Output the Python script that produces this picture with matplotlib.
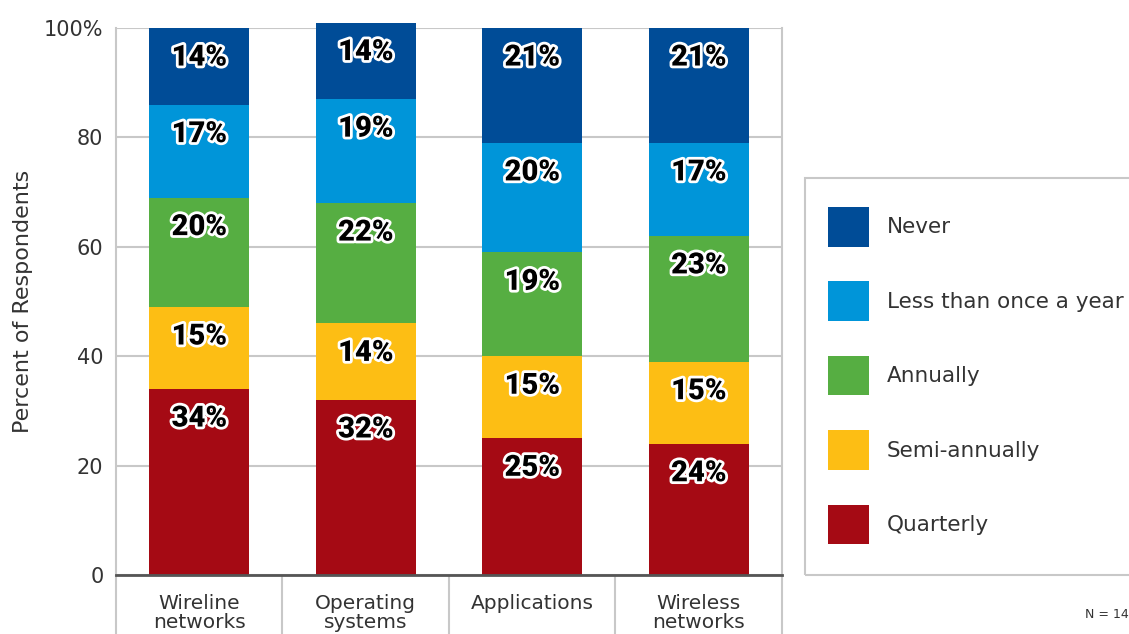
import matplotlib

matplotlib.use("Agg")

import matplotlib.pyplot as plt
import matplotlib.patheffects as pe
import numpy as np
from matplotlib.patches import Rectangle


categories = ["Wireline\nnetworks", "Operating\nsystems", "Applications", "Wireless\nnetworks"]
series = ["Quarterly", "Semi-annually", "Annually", "Less than once a year", "Never"]
quarterly = [34, 32, 25, 24]
semi_annually = [15, 14, 15, 15]
annually = [20, 22, 19, 23]
less_than_yearly = [17, 19, 20, 17]
never = [14, 14, 21, 21]
colors = ["#A50A14", "#FDBE14", "#56AE42", "#0095D9", "#004C97"]
yticks = [0, 20, 40, 60, 80, 100]
ytick_labels = ["0", "20", "40", "60", "80", "100%"]

TEXT = "#333333"
GRID = "#c8c8c8"

fig = plt.figure(figsize=(11.29, 6.34), dpi=100)
ax = fig.add_axes([116 / 1129, 1 - 575 / 634, (782 - 116) / 1129, (575 - 28) / 634])

x = np.arange(len(categories))
values = [quarterly, semi_annually, annually, less_than_yearly, never]
bottom = np.zeros(len(categories))
handles = []
for name, vals, col in zip(series, values, colors):
    vals = np.array(vals, dtype=float)
    bars = ax.bar(x, vals, bottom=bottom, width=0.6, color=col, zorder=2, clip_on=False, label=name)
    handles.append(bars)
    tops = bottom + vals
    for xi, top, v in zip(x, tops, vals):
        ax.text(
            xi, top - 5.4, f"{int(v)}%",
            ha="center", va="center", fontsize=21, fontweight="heavy",
            family=["Roboto", "DejaVu Sans"], color="black", zorder=4,
            path_effects=[pe.withStroke(linewidth=4, foreground="white")],
        )
    bottom = tops

ax.set_xlim(-0.5, 3.5)
ax.set_ylim(0, 100)
ax.set_yticks(yticks)
ax.set_yticklabels(ytick_labels, fontsize=15, color=TEXT)
ax.set_xticks(x)
ax.set_xticklabels(categories, fontsize=14.5, color=TEXT, linespacing=0.95)
ax.tick_params(axis="both", length=0)
ax.tick_params(axis="x", pad=14)
ax.tick_params(axis="y", pad=9)
ax.yaxis.grid(True, color=GRID, linewidth=1.5, zorder=0)
ax.set_axisbelow(True)

ax.spines["top"].set_visible(False)
ax.spines["left"].set_color(GRID)
ax.spines["left"].set_linewidth(1.5)
ax.spines["right"].set_color(GRID)
ax.spines["right"].set_linewidth(1.5)
ax.spines["bottom"].set_color("#555555")
ax.spines["bottom"].set_linewidth(2)
ax.spines["bottom"].set_zorder(3)

# table-style dividers under the axis
ax.vlines(np.arange(-0.5, 4.0, 1.0), -12, 0, colors=GRID, linewidth=1.5, clip_on=False)

ax.set_ylabel("Percent of Respondents", fontsize=16, color=TEXT, labelpad=8)

# legend with its own frame, running off the right edge
fig.add_artist(Rectangle((805 / 1129, 1 - 575 / 634), 0.35, (575 - 178) / 634,
                         transform=fig.transFigure, fill=False, edgecolor=GRID, linewidth=1.5))
leg = fig.legend(
    handles=handles[::-1], labels=series[::-1],
    loc="upper left", bbox_to_anchor=(828 / 1129, 1 - 207 / 634),
    frameon=False, fontsize=15.5, handlelength=1.9, handleheight=2.45,
    labelspacing=1.62, handletextpad=0.84, borderpad=0, borderaxespad=0,
)
for t in leg.get_texts():
    t.set_color(TEXT)

fig.text(1085 / 1129, 1 - 614 / 634, "N = 14", fontsize=9, color=TEXT, va="center")

fig.savefig("out.png", dpi=100)
